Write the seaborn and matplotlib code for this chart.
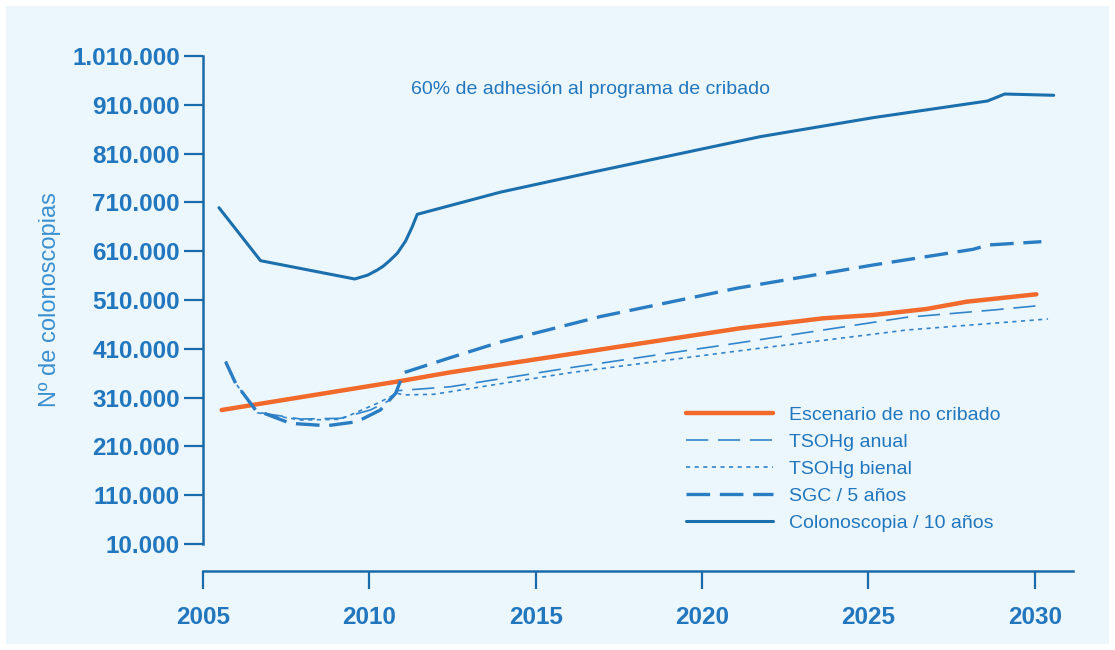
import matplotlib
matplotlib.use("Agg")
import matplotlib.pyplot as plt
from matplotlib.patches import Rectangle
from matplotlib.ticker import FuncFormatter
import seaborn as sns

# values (year, number of colonoscopies)
years_no_cribado = [2005.56, 2010.94, 2012.44, 2021.14, 2023.64, 2025.14, 2026.75, 2027.95, 2030.05]
no_cribado = [284600, 344000, 361900, 452000, 472500, 479300, 491600, 506500, 521700]

years_anual = [2005.68, 2005.98, 2006.63, 2007.93, 2009.13, 2010.03, 2010.63, 2010.84,
               2012.44, 2016.04, 2021.14, 2026.15, 2028.75, 2030.1]
anual = [383600, 339300, 279900, 266100, 267600, 284600, 305100, 324100,
         332300, 371300, 422500, 474600, 489500, 498300]

years_bienal = [2005.68, 2005.98, 2006.63, 2007.93, 2009.13, 2010.24, 2010.84, 2011.03,
                2011.94, 2016.04, 2021.14, 2026.15, 2030.4]
bienal = [383600, 339300, 279000, 264100, 265500, 298300, 318800, 315500,
          316800, 361100, 406100, 448500, 471100]

years_sgc = [2005.68, 2005.98, 2006.58, 2007.63, 2008.73, 2009.63, 2010.33, 2010.79, 2011.03,
             2012.44, 2013.94, 2016.94, 2021.04, 2025.14, 2028.15, 2028.6, 2030.2]
sgc = [383600, 339300, 284600, 257300, 252400, 260600, 284600, 318800, 361000,
       392000, 424000, 476000, 534000, 581700, 613900, 622700, 629500]

years_colono = [2005.48, 2006.73, 2009.56, 2009.95, 2010.24, 2010.42, 2010.6, 2010.84, 2011.09,
                2011.29, 2011.44, 2013.94, 2016.64, 2021.74, 2025.14, 2028.58, 2029.1, 2030.57]
colono = [699150, 590550, 553040, 561000, 571500, 579500, 590000, 605700, 630900,
          660200, 685600, 731000, 771000, 844600, 883600, 917800, 932100, 929500]

y_ticks = [10000 + 100000 * i for i in range(11)]
x_ticks = [2005, 2010, 2015, 2020, 2025, 2030]

BG = "#ecf7fd"
AXIS = "#1b6aa9"
TEXT = "#2176bd"
ORANGE = "#f26a2b"
BLUE_DARK = "#1b6fad"
BLUE = "#2a7cc3"
BLUE_THIN = "#3385cb"

sns.set_style("ticks")
plt.rcParams["font.family"] = ["Liberation Sans", "DejaVu Sans"]
plt.rcParams["lines.scale_dashes"] = False

fig = plt.figure(figsize=(11.15, 6.5), dpi=100, facecolor="white")
fig.patches.append(Rectangle((6 / 1115, 6 / 650), 1 - 12 / 1115, 1 - 12 / 650,
                             transform=fig.transFigure, facecolor=BG,
                             edgecolor="none", zorder=-10))
ax = fig.add_axes([203 / 1115, 1 - 571 / 650, 870 / 1115, 515 / 650])
ax.set_facecolor("none")

sns.lineplot(x=years_no_cribado, y=no_cribado, ax=ax, color=ORANGE, linewidth=3.2,
             solid_capstyle="round", estimator=None, sort=False,
             label="Escenario de no cribado")
sns.lineplot(x=years_anual, y=anual, ax=ax, color=BLUE_THIN, linewidth=1.2,
             linestyle=(0, (16, 7)), estimator=None, sort=False,
             label="TSOHg anual")
sns.lineplot(x=years_bienal, y=bienal, ax=ax, color=BLUE_THIN, linewidth=1.2,
             linestyle=(0, (3, 3.2)), estimator=None, sort=False,
             label="TSOHg bienal")
sns.lineplot(x=years_sgc, y=sgc, ax=ax, color=BLUE, linewidth=2.4,
             linestyle=(0, (17, 7)), estimator=None, sort=False,
             label="SGC / 5 años")
sns.lineplot(x=years_colono, y=colono, ax=ax, color=BLUE_DARK, linewidth=2.2,
             estimator=None, sort=False, label="Colonoscopia / 10 años")

ax.set_xlim(2005, 2031.15)
ax.set_ylim(-45300, 1010000)
ax.set_xticks(x_ticks)
ax.set_yticks(y_ticks)
ax.yaxis.set_major_formatter(FuncFormatter(lambda v, p: f"{int(v):,}".replace(",", ".")))

for side in ["top", "right"]:
    ax.spines[side].set_visible(False)
ax.spines["left"].set_bounds(10000, 1010000)
ax.spines["bottom"].set_bounds(2005, 2031.15)
for side in ["left", "bottom"]:
    ax.spines[side].set_color(AXIS)
    ax.spines[side].set_linewidth(1.8)

ax.tick_params(axis="y", length=13.5, width=1.6, color=AXIS, pad=3,
               labelsize=17.5, labelcolor=TEXT)
ax.tick_params(axis="x", length=13, width=1.6, color=AXIS, pad=12,
               labelsize=17.5, labelcolor=TEXT)
for lab in ax.get_xticklabels() + ax.get_yticklabels():
    lab.set_fontweight("bold")

ax.set_xlabel("")
ax.set_ylabel("")
fig.text(50 / 1115, 1 - 300 / 650, "Nº de colonoscopias", rotation=90,
         ha="center", va="center", fontsize=17, color="#3a8fd0")

fig.text(411 / 1115, 1 - 89 / 650, "60% de adhesión al programa de cribado",
         ha="left", va="center", fontsize=14, color=TEXT)

leg = ax.legend(loc="upper left", bbox_to_anchor=(686 / 1115, 1 - 406 / 650),
                bbox_transform=fig.transFigure, frameon=False, fontsize=14,
                labelcolor=TEXT, handlelength=4.47, handletextpad=0.82,
                labelspacing=0.49, borderpad=0, borderaxespad=0)

fig.savefig("out.png", dpi=100, facecolor=fig.get_facecolor())
